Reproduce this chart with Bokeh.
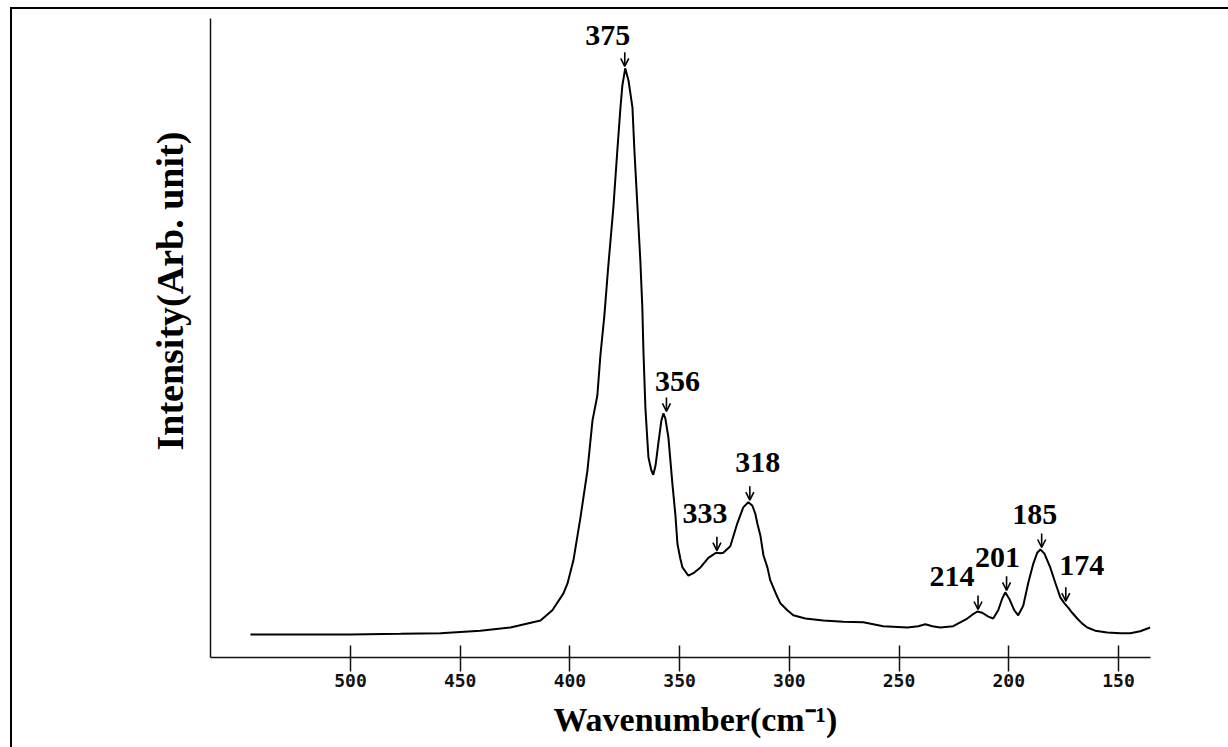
import numpy as np
from bokeh.plotting import figure
from bokeh.models import Range1d, FixedTicker, Label, Arrow, OpenHead, ColumnDataSource, Title
from bokeh.embed import file_html
from bokeh.resources import INLINE

# ---- data (wavenumber in cm^-1, intensity in arb. units 0..100)
wavenumber = [545.6, 522.8, 500.0, 477.2, 459.0, 440.8, 427.1, 413.4, 408.0, 403.0,
              401.1, 398.4, 395.2, 392.0, 389.7, 387.5, 386.1, 384.3, 382.5, 380.2,
              378.4, 377.0, 376.1, 374.8, 373.3, 371.5, 370.6, 369.2, 367.9, 367.0,
              366.5, 365.6, 364.7, 364.2, 362.9, 362.0, 361.0, 359.7, 358.3, 357.4,
              356.5, 355.1, 354.2, 353.3, 351.9, 351.0, 349.7, 348.7, 346.0, 343.3,
              340.5, 336.9, 333.3, 331.4, 330.1, 326.9, 323.7, 321.0, 318.7, 316.9,
              315.5, 314.6, 313.2, 311.8, 310.0, 308.7, 305.5, 304.1, 300.9, 298.2,
              292.7, 284.5, 275.4, 266.3, 257.2, 246.2, 241.2, 238.0, 234.8, 231.2,
              225.3, 222.1, 218.9, 216.6, 214.3, 212.1, 209.3, 207.1, 204.8, 203.0,
              201.6, 199.8, 197.5, 195.7, 193.4, 191.1, 188.8, 187.0, 185.6, 183.8,
              181.1, 178.8, 176.5, 174.7, 172.9, 171.1, 168.8, 166.5, 164.2, 160.6,
              155.1, 149.2, 144.6, 140.1, 135.5]
intensity = [3.6, 3.6, 3.6, 3.7, 3.8, 4.2, 4.7, 5.8, 7.4, 10.0,
             11.6, 15.2, 21.9, 29.3, 37.1, 41.0, 47.3, 53.5, 61.3, 70.4,
             79.3, 85.9, 89.5, 92.2, 90.3, 86.1, 79.3, 70.4, 62.1, 54.8,
             48.0, 39.1, 34.0, 31.3, 29.3, 28.6, 30.0, 33.5, 37.1, 38.2,
             37.4, 34.4, 30.8, 27.2, 22.2, 17.8, 15.5, 14.1, 12.8, 13.3,
             14.1, 15.6, 16.4, 16.3, 16.4, 17.4, 21.0, 23.5, 24.3, 23.8,
             22.5, 21.0, 19.1, 16.0, 14.1, 12.1, 9.5, 8.5, 7.4, 6.6,
             6.1, 5.8, 5.6, 5.5, 4.9, 4.7, 4.9, 5.2, 4.9, 4.7,
             4.9, 5.5, 6.1, 6.7, 7.2, 7.0, 6.4, 6.1, 7.4, 9.2,
             10.2, 9.2, 7.4, 6.6, 8.1, 11.7, 14.7, 16.4, 16.9, 16.3,
             14.1, 11.7, 9.4, 8.5, 7.8, 7.0, 6.1, 5.3, 4.7, 4.2,
             3.9, 3.8, 3.8, 4.1, 4.7]
peaks = [375, 356, 333, 318, 214, 201, 185, 174]
x_ticks = [500, 450, 400, 350, 300, 250, 200, 150]
x_title = "Wavenumber(cm\u207b\u00b9)"
y_title = "Intensity(Arb. unit)"

# ---- label placement (screen pixel offsets from each peak top) — layout only
label_dx = [-17, 11, -12, 8, -26, -9, -7, 16]
label_dy = [33, 32, 39, 40, 35, 35, 35, 38]

X_START, X_END = 563.8, 135.4
Y_START, Y_END = 0.0, 100.0
FRAME_H = 639
ypx = (Y_END - Y_START) / FRAME_H

p = figure(width=1228, height=747,
           x_range=Range1d(X_START, X_END), y_range=Range1d(Y_START, Y_END),
           output_backend="svg", toolbar_location=None,
           min_border_left=210, min_border_right=78,
           min_border_top=18, min_border_bottom=90)
p.outline_line_color = None
p.grid.visible = False
p.background_fill_color = None
p.border_fill_color = None
# outer frame of the scanned figure (left and top edges)
p.styles = {"background": "linear-gradient(#000,#000) 10px 7px / 2px calc(100% - 7px) no-repeat, "
                          "linear-gradient(#000,#000) 10px 7px / calc(100% - 10px) 2px no-repeat"}

# x axis
p.xaxis.ticker = FixedTicker(ticks=x_ticks)
p.xaxis.major_tick_in = 12
p.xaxis.major_tick_out = 14
p.xaxis.minor_tick_line_color = None
p.xaxis.axis_line_width = 1.5
p.xaxis.axis_line_color = "#111111"
p.xaxis.major_tick_line_width = 1.5
p.xaxis.major_tick_line_color = "#111111"
p.xaxis.major_label_text_font = "DejaVu Sans Mono"
p.xaxis.major_label_text_font_size = "18px"
p.xaxis.major_label_text_font_style = "bold"
p.xaxis.major_label_text_color = "#111111"
p.xaxis.major_label_standoff = 2

# y axis: plain line
p.yaxis.ticker = FixedTicker(ticks=[])
p.yaxis.major_tick_out = 0
p.yaxis.major_tick_in = 0
p.yaxis.minor_tick_line_color = None
p.yaxis.major_tick_line_color = None
p.yaxis.axis_line_width = 1.5
p.yaxis.axis_line_color = "#111111"

# axis titles
p.add_layout(Title(text=y_title, align="left", vertical_align="top", offset=207, standoff=35,
                   text_font="Liberation Serif", text_font_style="bold",
                   text_font_size="38px", text_color="black"), "left")
p.add_layout(Title(text=x_title, align="left", vertical_align="bottom", offset=343, standoff=19,
                   text_font="Liberation Serif", text_font_style="bold",
                   text_font_size="34px", text_color="black"), "below")

# spectrum
p.line(wavenumber, intensity, line_color="black", line_width=2)

# peak annotations: arrow tip at the local maximum near each labelled band
wn_arr = np.array(wavenumber)
in_arr = np.array(intensity)
peak_I = [float(in_arr[np.abs(wn_arr - pk) <= 1.5].max()) for pk in peaks]

arrow_src = ColumnDataSource(dict(
    x0=peaks, x1=peaks,
    y0=[v + 16 * ypx for v in peak_I],
    y1=[v + 2 * ypx for v in peak_I]))
p.add_layout(Arrow(end=OpenHead(size=8, line_width=1.6, line_color="black"),
                   x_start="x0", y_start="y0", x_end="x1", y_end="y1",
                   source=arrow_src, line_width=1.6, line_color="black"))

for pk, v, dx, dy in zip(peaks, peak_I, label_dx, label_dy):
    p.add_layout(Label(x=pk, y=v, x_offset=dx, y_offset=dy, text=str(pk),
                       text_font="Liberation Serif", text_font_style="bold",
                       text_font_size="30px", text_align="center",
                       text_baseline="middle", text_color="black"))

open("out.html", "w").write(file_html(p, INLINE))
